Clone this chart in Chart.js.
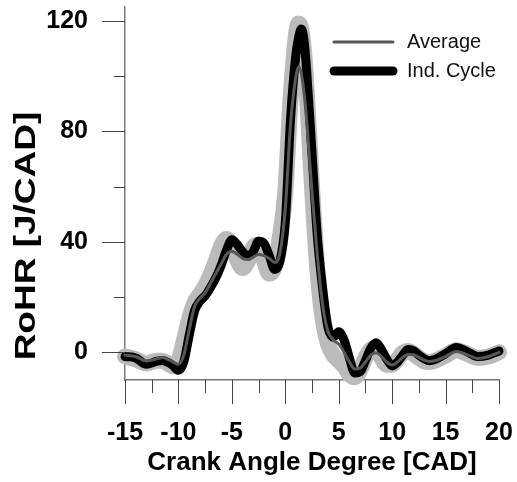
<!DOCTYPE html>
<html>
<head>
<meta charset="utf-8">
<script src="https://cdn.jsdelivr.net/npm/chart.js@4.4.1/dist/chart.umd.min.js"></script>
<style>
  html, body { margin: 0; padding: 0; background: #fff; }
</style>
</head>
<body>
<canvas id="rohr" width="517" height="482"></canvas>
<script>
const crankAngle = [-15, -14, -13, -12, -11.5, -11, -10.5, -10, -9.5, -9, -8.5, -8, -7.5, -7, -6.5, -6,
  -5.5, -5, -4.5, -4, -3.5, -3, -2.5, -2, -1.5, -1, -0.5, 0, 0.5, 1, 1.25, 1.5, 1.75, 2,
  2.5, 3, 3.5, 4, 4.5, 5, 5.5, 6, 6.5, 7, 7.5, 8, 8.5, 9, 9.5, 10, 10.5, 11, 11.5, 12,
  12.5, 13, 13.5, 14, 15, 16, 17, 18, 19, 20];

// RoHR [J/CAD]
const avgRohr = [-1, -1.5, -3.1, -2.3, -1.9, -2.5, -3.5, -4.3, -1, 8, 16.5, 19.5, 21.5, 25, 28.5, 32,
  35.5, 36.6, 35.5, 34, 33.6, 34.5, 35.4, 35, 34, 32.5, 36, 52, 83, 100, 103.5, 101, 94, 84,
  58, 35, 17, 7.5, 4.5, 3, 0, -3.5, -6, -5.7, -3.5, -1, -0.1, -1.5, -3.5, -4.6, -3.5, -1.8, -0.8, -0.9,
  -1.8, -2.8, -3.3, -3, -1.5, 0.3, -0.8, -2.2, -1.6, 0];

const cycleRohr = [-1.5, -2, -4.3, -3.2, -2.9, -3.6, -4.8, -6.5, -3.5, 6, 15, 18.5, 20.5, 23.5, 27, 31.5,
  37, 40.8, 39, 36.5, 34.8, 36.5, 40.2, 39.5, 35, 30, 33, 47, 85, 108, 114, 117, 113, 102,
  72, 42, 23, 9, 5.5, 7.5, 4.5, -2, -7.5, -7, -3, 1.5, 3.5, 1, -2.5, -4.9, -3.5, -1, 1, 0.6,
  -1, -2.3, -3, -2.6, -0.5, 1.8, 0.3, -1.5, -1, 0.5];

// spread of the individual cycles (light grey band)
const cycleSpread = [-1.5, -2.5, -4, -3, -3, -4, -5, -3, 4, 12, 18, 21, 24, 28, 33, 38.5,
  41, 38.5, 33.5, 30.5, 33, 38, 39, 33.5, 28.5, 31, 42, 58, 92, 115, 119, 117, 109, 95,
  60, 30, 12, 3, -1, -3, -5, -8, -9, -6.5, -2, 1, 1.5, -2, -4.5, -4.5, -2.5, -0.2, 0.5, -0.5,
  -2, -3.2, -3.5, -3, -1.2, 0.8, -0.5, -2, -1.5, 0];

const xTickLabels = [-15, -10, -5, 0, 5, 10, 15, 20];
const xMinorTicks = [-12.5, -7.5, -2.5, 2.5, 7.5, 12.5, 17.5];
const yTickLabels = [0, 40, 80, 120];
const yMinorTicks = [20, 60, 100];

const toPoints = arr => crankAngle.map((x, i) => ({ x: x, y: arr[i] }));

const decor = {
  id: 'decor',
  afterDraw(chart) {
    const ctx = chart.ctx;
    const a = chart.chartArea;
    const xs = chart.scales.x, ys = chart.scales.y;
    ctx.save();

    // tick marks, long ones at labelled values
    ctx.strokeStyle = '#444';
    ctx.lineWidth = 1;
    ctx.beginPath();
    yTickLabels.forEach(v => {
      const py = Math.round(ys.getPixelForValue(v)) + 0.5;
      ctx.moveTo(a.left - 23, py); ctx.lineTo(a.left, py);
    });
    yMinorTicks.forEach(v => {
      const py = Math.round(ys.getPixelForValue(v)) + 0.5;
      ctx.moveTo(a.left - 11, py); ctx.lineTo(a.left, py);
    });
    xTickLabels.forEach(v => {
      const px = Math.round(xs.getPixelForValue(v)) + 0.5;
      ctx.moveTo(px, a.bottom); ctx.lineTo(px, a.bottom + 24);
    });
    xMinorTicks.forEach(v => {
      const px = Math.round(xs.getPixelForValue(v)) + 0.5;
      ctx.moveTo(px, a.bottom); ctx.lineTo(px, a.bottom + 13);
    });
    ctx.stroke();

    // y axis title
    ctx.save();
    ctx.translate(27, 236);
    ctx.scale(0.8, 1);
    ctx.rotate(-Math.PI / 2);
    ctx.fillStyle = '#000';
    ctx.font = 'bold 37px "Liberation Sans", Arial, sans-serif';
    ctx.textAlign = 'center';
    ctx.textBaseline = 'middle';
    ctx.fillText('RoHR [J/CAD]', 0, 0);
    ctx.restore();

    // legend
    const rows = [chart.data.datasets[0], chart.data.datasets[1]];
    rows.forEach((ds, i) => {
      const yy = a.top + 35 + i * 29;
      ctx.beginPath();
      ctx.strokeStyle = ds.borderColor;
      ctx.lineWidth = ds.borderWidth;
      ctx.lineCap = 'round';
      ctx.moveTo(a.right - 165, yy);
      ctx.lineTo(a.right - 106, yy);
      ctx.stroke();
      ctx.fillStyle = '#111';
      ctx.font = '20px "Liberation Sans", Arial, sans-serif';
      ctx.textAlign = 'left';
      ctx.textBaseline = 'middle';
      ctx.fillText(ds.label, a.right - 92, yy);
    });
    ctx.restore();
  }
};

new Chart(document.getElementById('rohr'), {
  type: 'line',
  data: {
    datasets: [
      {
        label: 'Average',
        data: toPoints(avgRohr),
        borderColor: '#585858',
        borderWidth: 3,
        order: 1
      },
      {
        label: 'Ind. Cycle',
        data: toPoints(cycleRohr),
        borderColor: '#000000',
        borderWidth: 9,
        order: 2
      },
      {
        label: 'Cycles',
        data: toPoints(cycleSpread),
        borderColor: '#bbbbbb',
        borderWidth: 16,
        order: 3
      }
    ]
  },
  options: {
    responsive: false,
    animation: false,
    events: [],
    clip: false,
    elements: {
      point: { radius: 0 },
      line: { cubicInterpolationMode: 'monotone', borderCapStyle: 'round', borderJoinStyle: 'round', fill: false }
    },
    layout: { padding: { left: 0, right: 18, top: 7, bottom: 0 } },
    plugins: {
      legend: { display: false },
      tooltip: { enabled: false }
    },
    scales: {
      x: {
        type: 'linear',
        min: -15,
        max: 20,
        afterBuildTicks: s => { s.ticks = xTickLabels.map(v => ({ value: v })); },
        afterFit: s => { s.height = 102; s.paddingLeft = 0; s.paddingRight = 0; },
        grid: { display: false, drawTicks: false },
        border: { display: true, color: '#777', width: 1.5 },
        ticks: {
          autoSkip: false,
          maxRotation: 0,
          padding: 38,
          color: '#000',
          font: { family: '"Liberation Sans", Arial, sans-serif', size: 25, weight: 'bold' }
        },
        title: {
          display: true,
          text: 'Crank Angle Degree [CAD]',
          color: '#000',
          padding: { top: 0, bottom: 4 },
          font: { family: '"Liberation Sans", Arial, sans-serif', size: 26, weight: 'bold' }
        }
      },
      y: {
        min: -10,
        max: 125,
        afterBuildTicks: s => { s.ticks = yTickLabels.map(v => ({ value: v })); },
        afterFit: s => { s.width = 125; s.paddingTop = 0; s.paddingBottom = 0; },
        grid: { display: false, drawTicks: false },
        border: { display: true, color: '#777', width: 1.5 },
        ticks: {
          padding: 37,
          color: '#000',
          font: { family: '"Liberation Sans", Arial, sans-serif', size: 25, weight: 'bold' }
        }
      }
    }
  },
  plugins: [decor]
});
</script>
</body>
</html>
